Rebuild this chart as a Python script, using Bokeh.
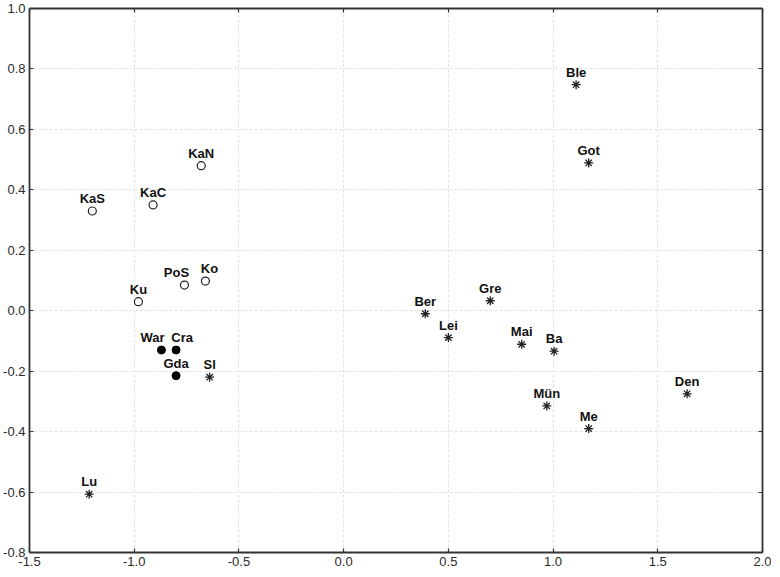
from bokeh.plotting import figure
from bokeh.models import ColumnDataSource, LinearAxis, FixedTicker, PrintfTickFormatter, Range1d, CustomJSTickFormatter
from bokeh.embed import file_html
from bokeh.resources import INLINE
from bokeh.core.properties import value

# --- data ---
open_names = ["KaN", "KaC", "KaS", "PoS", "Ko", "Ku"]
open_x = [-0.68, -0.91, -1.20, -0.76, -0.66, -0.98]
open_y = [0.48, 0.35, 0.33, 0.085, 0.098, 0.03]

filled_names = ["War", "Cra", "Gda"]
filled_x = [-0.87, -0.80, -0.80]
filled_y = [-0.13, -0.13, -0.215]

star_names = ["Sl", "Lu", "Ble", "Got", "Ber", "Gre", "Lei", "Mai", "Ba", "Mün", "Me", "Den"]
star_x = [-0.64, -1.215, 1.11, 1.17, 0.39, 0.70, 0.50, 0.85, 1.005, 0.97, 1.17, 1.64]
star_y = [-0.22, -0.607, 0.748, 0.489, -0.01, 0.033, -0.089, -0.111, -0.134, -0.315, -0.39, -0.275]

x_ticks = [-1.5, -1.0, -0.5, 0.0, 0.5, 1.0, 1.5, 2.0]
y_ticks = [-0.8, -0.6, -0.4, -0.2, 0.0, 0.2, 0.4, 0.6, 0.8, 1.0]

# label nudges (pixels, style only)
label_dx = {"War": -9, "Cra": 6, "PoS": -8, "Ko": 4}

FONT = "Liberation Sans"

p = figure(width=771, height=568, output_backend="svg", toolbar_location=None,
           x_range=Range1d(-1.5, 2.0), y_range=Range1d(-0.8, 1.0),
           x_axis_location=None, y_axis_location=None,
           min_border_left=2, min_border_right=9, min_border_top=8, min_border_bottom=2)
p.outline_line_color = None
p.background_fill_color = "white"
p.border_fill_color = "white"

def style_axis(ax, ticks, labels=True):
    ax.ticker = FixedTicker(ticks=ticks)
    ax.axis_line_color = "#333333"
    ax.axis_line_width = 1.8
    ax.major_tick_line_color = "#333333"
    ax.major_tick_line_width = 1.2
    ax.major_tick_in = 4
    ax.major_tick_out = 0
    ax.minor_tick_line_color = None
    ax.major_label_text_font = FONT
    ax.major_label_text_font_size = "13px"
    ax.major_label_text_color = "#2a2a2a"
    ax.major_label_standoff = 4
    if labels:
        ax.formatter = PrintfTickFormatter(format="%.1f")
    else:
        ax.formatter = CustomJSTickFormatter(code="return '';")
        ax.major_label_standoff = 0

bx = LinearAxis(); style_axis(bx, x_ticks); p.add_layout(bx, "below")
ly = LinearAxis(); style_axis(ly, y_ticks); p.add_layout(ly, "left")
tx = LinearAxis(); style_axis(tx, x_ticks, labels=False); p.add_layout(tx, "above")
ry = LinearAxis(); style_axis(ry, y_ticks, labels=False); p.add_layout(ry, "right")

p.xgrid.ticker = FixedTicker(ticks=x_ticks)
p.ygrid.ticker = FixedTicker(ticks=y_ticks)
for g in (p.xgrid, p.ygrid):
    g.grid_line_color = "#e2e2e2"
    g.grid_line_dash = "3 2"
    g.grid_line_width = 1

def src(xs, ys, names):
    return ColumnDataSource(dict(x=xs, y=ys, name=names,
                                 dx=[label_dx.get(n, 0) for n in names]))

src_open = src(open_x, open_y, open_names)
src_filled = src(filled_x, filled_y, filled_names)
src_star = src(star_x, star_y, star_names)

p.scatter("x", "y", source=src_open, marker="circle", size=8, fill_color="white",
          line_color="#222222", line_width=1.2)
p.scatter("x", "y", source=src_filled, marker="circle", size=8, fill_color="black",
          line_color="black")
p.scatter("x", "y", source=src_star, marker="asterisk", size=9, line_color="#222222",
          line_width=1.3)

for s in (src_open, src_filled, src_star):
    p.text("x", "y", text="name", source=s, text_font=value(FONT), text_font_style="bold",
           text_font_size="13px", text_color="#111111", text_align="center",
           text_baseline="bottom", x_offset="dx", y_offset=-5)

open("out.html", "w").write(file_html(p, INLINE))
